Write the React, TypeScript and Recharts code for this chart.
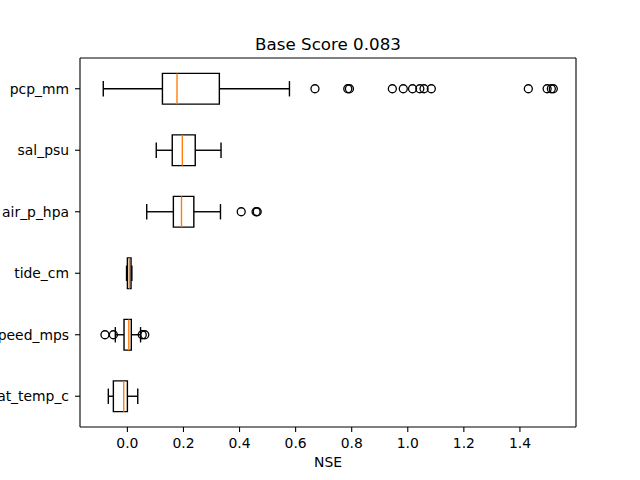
import { ScatterChart, Scatter, XAxis, YAxis, ReferenceArea, ReferenceLine, Label } from "recharts";

// box statistics per feature, bottom row first
const features = ["wat_temp_c", "wind_speed_mps", "tide_cm", "air_p_hpa", "sal_psu", "pcp_mm"];
const whiskerLow = [-0.068, -0.043, -0.003, 0.069, 0.103, -0.086];
const q1 = [-0.05, -0.012, 0.0, 0.164, 0.16, 0.125];
const medians = [-0.013, 0.005, 0.007, 0.193, 0.196, 0.177];
const q3 = [0.0, 0.014, 0.013, 0.237, 0.242, 0.328];
const whiskerHigh = [0.037, 0.047, 0.016, 0.332, 0.334, 0.578];
const fliers: number[][] = [
  [],
  [-0.08, -0.05, 0.053, 0.062],
  [],
  [0.406, 0.459, 0.463],
  [],
  [0.669, 0.786, 0.792, 0.945, 0.984, 1.017, 1.043, 1.058, 1.084, 1.43, 1.497, 1.512, 1.519],
];
const xTicks = [0, 0.2, 0.4, 0.6, 0.8, 1.0, 1.2, 1.4];

const X_MIN = -0.169;
const X_MAX = 1.6;
const Y_MIN = 0.5;
const Y_MAX = 6.5;
const BOX_HALF = 0.25;
const CAP_HALF = 0.125;
const LW = 1.4;
const FONT = "DejaVu Sans, sans-serif";

const flierPoints = fliers.flatMap((vals, i) => vals.map((x) => ({ x, y: i + 1 })));

const FlierDot = (props: any) => (
  <circle cx={props.cx} cy={props.cy} r={4} fill="none" stroke="#000" strokeWidth={1.3} />
);

export default function App() {
  return (
    <div style={{ position: "absolute", left: 0, top: 0, width: 640, height: 480, background: "#fff", fontFamily: FONT }}>
      <div
        style={{
          position: "absolute",
          left: 80,
          width: 496,
          top: 36,
          textAlign: "center",
          fontSize: 16.7,
          lineHeight: "16.7px",
          color: "#000",
          whiteSpace: "nowrap",
        }}
      >
        Base Score 0.083
      </div>
      <ScatterChart
        width={640}
        height={480}
        margin={{ top: 58, right: 64, bottom: 0, left: 0 }}
        style={{ fontFamily: FONT }}
      >
        <XAxis
          type="number"
          dataKey="x"
          domain={[X_MIN, X_MAX]}
          allowDataOverflow
          ticks={xTicks}
          tickFormatter={(v: number) => v.toFixed(1)}
          height={53}
          tickSize={5}
          tickMargin={6}
          axisLine={{ stroke: "#000", strokeWidth: 1.1 }}
          tickLine={{ stroke: "#000", strokeWidth: 1.1 }}
          tick={{ fill: "#000", fontSize: 13.9 }}
        >
          <Label value="NSE" position="insideBottom" offset={13} fill="#000" fontSize={13.9} />
        </XAxis>
        <YAxis
          type="number"
          dataKey="y"
          domain={[Y_MIN, Y_MAX]}
          allowDataOverflow
          ticks={[1, 2, 3, 4, 5, 6]}
          tickFormatter={(v: number) => features[v - 1]}
          width={80}
          tickSize={5}
          tickMargin={6}
          axisLine={{ stroke: "#000", strokeWidth: 1.1 }}
          tickLine={{ stroke: "#000", strokeWidth: 1.1 }}
          tick={{ fill: "#000", fontSize: 13.9 }}
        />
        {/* top and right spines */}
        <ReferenceLine y={Y_MAX} stroke="#000" strokeWidth={1.1} />
        <ReferenceLine x={X_MAX} stroke="#000" strokeWidth={1.1} />

        {features.map((_, i) => {
          const pos = i + 1;
          return [
            <ReferenceLine
              key={`wl${i}`}
              segment={[{ x: whiskerLow[i], y: pos }, { x: q1[i], y: pos }]}
              stroke="#000"
              strokeWidth={LW}
            />,
            <ReferenceLine
              key={`wh${i}`}
              segment={[{ x: q3[i], y: pos }, { x: whiskerHigh[i], y: pos }]}
              stroke="#000"
              strokeWidth={LW}
            />,
            <ReferenceLine
              key={`cl${i}`}
              segment={[{ x: whiskerLow[i], y: pos - CAP_HALF }, { x: whiskerLow[i], y: pos + CAP_HALF }]}
              stroke="#000"
              strokeWidth={LW}
            />,
            <ReferenceLine
              key={`ch${i}`}
              segment={[{ x: whiskerHigh[i], y: pos - CAP_HALF }, { x: whiskerHigh[i], y: pos + CAP_HALF }]}
              stroke="#000"
              strokeWidth={LW}
            />,
            <ReferenceArea
              key={`box${i}`}
              x1={q1[i]}
              x2={q3[i]}
              y1={pos - BOX_HALF}
              y2={pos + BOX_HALF}
              fill="none"
              fillOpacity={0}
              stroke="#000"
              strokeWidth={LW}
              strokeOpacity={1}
            />,
            <ReferenceLine
              key={`med${i}`}
              segment={[{ x: medians[i], y: pos - BOX_HALF }, { x: medians[i], y: pos + BOX_HALF }]}
              stroke="#ff7f0e"
              strokeWidth={LW}
            />,
          ];
        })}

        <Scatter data={flierPoints} shape={FlierDot} isAnimationActive={false} />
      </ScatterChart>
    </div>
  );
}
